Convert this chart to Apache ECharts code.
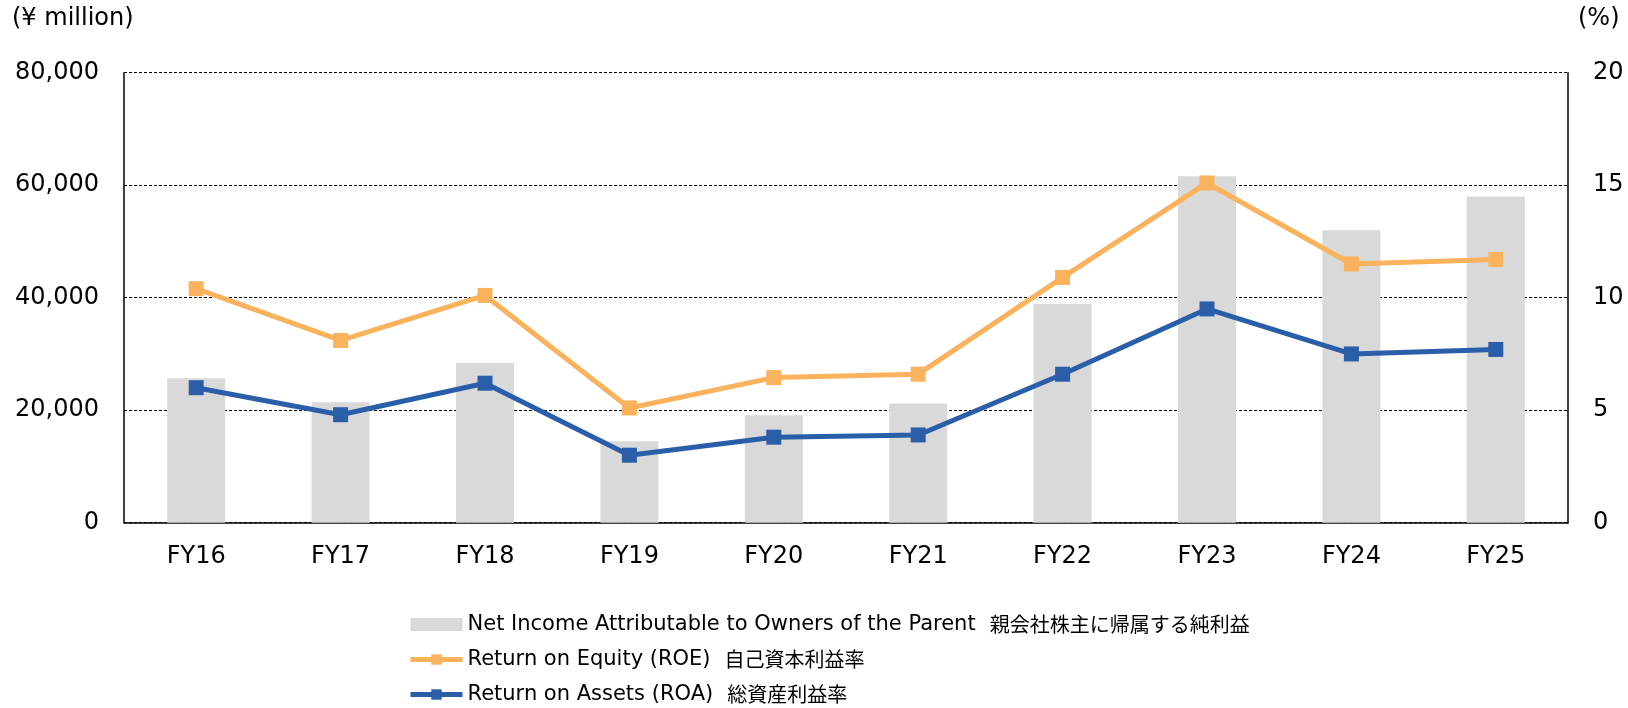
<!DOCTYPE html>
<html>
<head>
<meta charset="utf-8">
<script src="https://cdn.jsdelivr.net/npm/echarts@6/dist/echarts.min.js"></script>
<style>
  html, body { margin: 0; padding: 0; background: #fff; }
  #chart { width: 1628px; height: 708px; }
</style>
</head>
<body>
<div id="chart"></div>
<script>
// 年度
const years = ['FY16', 'FY17', 'FY18', 'FY19', 'FY20', 'FY21', 'FY22', 'FY23', 'FY24', 'FY25'];
// 親会社株主に帰属する純利益 (¥ million)
const netIncome = [25700, 21400, 28400, 14500, 19100, 21200, 38900, 61600, 52000, 58000];
// ROE (%)
const roe = [10.4, 8.1, 10.1, 5.1, 6.45, 6.6, 10.9, 15.1, 11.5, 11.7];
// ROA (%)
const roa = [6.0, 4.8, 6.2, 3.0, 3.8, 3.9, 6.6, 9.5, 7.5, 7.7];

const leftTicks = [0, 20000, 40000, 60000, 80000];
const rightTicks = [0, 5, 10, 15, 20];

// 凡例名（英語 | 日本語）
const nameNI = 'Net Income Attributable to Owners of the Parent|親会社株主に帰属する純利益';
const nameROE = 'Return on Equity (ROE)|自己資本利益率';
const nameROA = 'Return on Assets (ROA)|総資産利益率';

const axisFont = 'DejaVu Sans';
const colorROE = '#fbb25c';
const colorROA = '#2a5ea9';
const chart = echarts.init(document.getElementById('chart'));

const option = {
    animation: false,
    grid: { left: 124, right: 60, top: 72.7, bottom: 185.3, containLabel: false },
    graphic: [
        { type: 'text', left: 12, top: 7, style: { text: '(¥ million)', font: '24px "DejaVu Sans"', fill: '#000' } },
        { type: 'text', left: 1578, top: 7, style: { text: '(%)', font: '24px "DejaVu Sans"', fill: '#000' } }
    ],
    legend: {
        orient: 'vertical',
        left: 408,
        top: 614,
        height: 94,
        padding: 0,
        itemWidth: 52,
        itemHeight: 13,
        itemGap: 14,
        formatter: name => {
            const parts = name.split('|');
            return '{en|' + parts[0] + '}{ja|' + parts[1] + '}';
        },
        textStyle: {
            color: '#000',
            lineHeight: 20,
            rich: {
                en: { fontFamily: 'DejaVu Sans', fontSize: 21, color: '#000', lineHeight: 20 },
                ja: { fontFamily: 'Noto Sans CJK JP', fontSize: 20, color: '#000', lineHeight: 20, padding: [0, 0, 0, 14] }
            }
        },
        data: [
            { name: nameNI, icon: 'rect' },
            { name: nameROE, lineStyle: { width: 5 } },
            { name: nameROA, lineStyle: { width: 5 } }
        ]
    },
    xAxis: {
        type: 'category',
        data: years,
        axisLine: { lineStyle: { color: '#000', width: 1.5 } },
        axisTick: { show: false },
        axisLabel: { margin: 22, fontSize: 24, fontFamily: axisFont, color: '#000' }
    },
    yAxis: [
        {
            type: 'value',
            min: leftTicks[0],
            max: leftTicks[leftTicks.length - 1],
            interval: leftTicks[1] - leftTicks[0],
            axisLine: { show: true, lineStyle: { color: '#000', width: 1.5 } },
            axisTick: { show: false },
            axisLabel: {
                margin: 25, fontSize: 24, fontFamily: axisFont, color: '#000',
                formatter: v => v.toLocaleString('en-US')
            },
            splitLine: { lineStyle: { color: '#000', width: 1, type: [3, 2] } }
        },
        {
            type: 'value',
            min: rightTicks[0],
            max: rightTicks[rightTicks.length - 1],
            interval: rightTicks[1] - rightTicks[0],
            axisLine: { show: true, lineStyle: { color: '#000', width: 1.5 } },
            axisTick: { show: false },
            axisLabel: { margin: 25, fontSize: 24, fontFamily: axisFont, color: '#000' },
            splitLine: { show: false }
        }
    ],
    series: [
        {
            name: nameNI,
            type: 'bar',
            data: netIncome,
            barWidth: 58,
            itemStyle: { color: '#d9d9d9' },
            z: 1
        },
        {
            name: nameROE,
            type: 'line',
            yAxisIndex: 1,
            data: roe,
            symbol: 'rect',
            symbolSize: 15,
            lineStyle: { color: colorROE, width: 5 },
            itemStyle: { color: colorROE },
            z: 3
        },
        {
            name: nameROA,
            type: 'line',
            yAxisIndex: 1,
            data: roa,
            symbol: 'rect',
            symbolSize: 15,
            lineStyle: { color: colorROA, width: 5 },
            itemStyle: { color: colorROA },
            z: 4
        }
    ]
};

chart.setOption(option);
</script>
</body>
</html>
